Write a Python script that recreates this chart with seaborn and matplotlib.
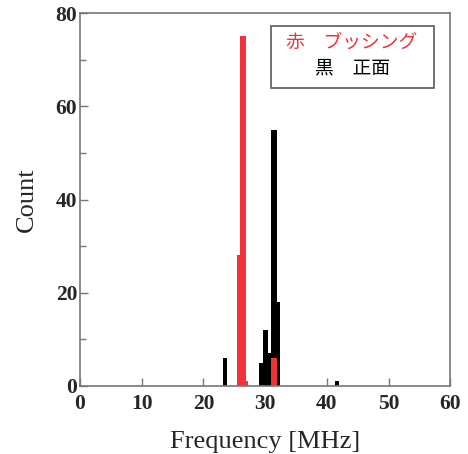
import numpy as np
import pandas as pd
import matplotlib
matplotlib.use("Agg")
import matplotlib.pyplot as plt
import seaborn as sns
from matplotlib.patches import Rectangle

# 黒 = 正面, 赤 = ブッシング (bin edges in MHz, counts per bin)
black_edges = [23.1, 23.9, 29.0, 29.7, 30.5, 31.0, 32.0, 32.4, 41.35, 42.0]
black_counts = [6, 0, 5, 12, 7, 55, 18, 0, 1]
red_edges = [25.4, 25.9, 26.9, 27.3, 31.0, 32.0]
red_counts = [28, 75, 1, 0, 6]

x_ticks = [0, 10, 20, 30, 40, 50, 60]
y_ticks = [0, 20, 40, 60, 80]
legend_lines = ["赤　ブッシング", "黒　正面"]

def centers(edges):
    e = np.array(edges)
    return (e[:-1] + e[1:]) / 2

black = pd.DataFrame({"freq": centers(black_edges), "n": black_counts})
red = pd.DataFrame({"freq": centers(red_edges), "n": red_counts})

sns.set_style("ticks")
plt.rcParams["font.family"] = ["Liberation Serif", "DejaVu Serif"]

fig = plt.figure(figsize=(4.68, 4.54), dpi=100)
ax = fig.add_axes([0.171, 0.150, 0.791, 0.821])

sns.histplot(data=black, x="freq", weights="n", bins=black_edges, color="black",
             alpha=1, linewidth=0, ax=ax)
sns.histplot(data=red, x="freq", weights="n", bins=red_edges, color="#f0323b",
             alpha=1, linewidth=0, ax=ax)

ax.set_xlim(0, 60)
ax.set_ylim(0, 80)
ax.set_xticks(x_ticks)
ax.set_yticks(y_ticks)
ax.set_yticks([10, 30, 50, 70], minor=True)
ax.tick_params(which="both", direction="in", color="#777777", width=1)
ax.tick_params(which="major", length=6, labelsize=15.5)
ax.tick_params(axis="x", which="major", pad=6)
ax.tick_params(axis="y", which="major", pad=2)
ax.tick_params(which="minor", length=4)
for lab in ax.get_xticklabels() + ax.get_yticklabels():
    lab.set_fontweight("bold")
for s in ax.spines.values():
    s.set_color("#777777")
    s.set_linewidth(1.2)
    s.set_visible(True)

ax.set_xlabel("Frequency [MHz]", fontsize=19, labelpad=12)
ax.set_ylabel("Count", fontsize=19, labelpad=13)

# legend box
ax.add_patch(Rectangle((0.516, 0.80), 0.441, 0.166, transform=ax.transAxes,
                       facecolor="white", edgecolor="#666666", linewidth=1.3, zorder=5))
ax.text(0.735, 0.922, legend_lines[0], transform=ax.transAxes, ha="center", va="center",
        color="#f0323b", fontsize=13.5, family=["Noto Sans CJK JP", "DejaVu Sans"], zorder=6)
ax.text(0.735, 0.853, legend_lines[1], transform=ax.transAxes, ha="center", va="center",
        color="black", fontsize=13.5, family=["Noto Sans CJK JP", "DejaVu Sans"], zorder=6)

fig.savefig("out.png", dpi=100)
